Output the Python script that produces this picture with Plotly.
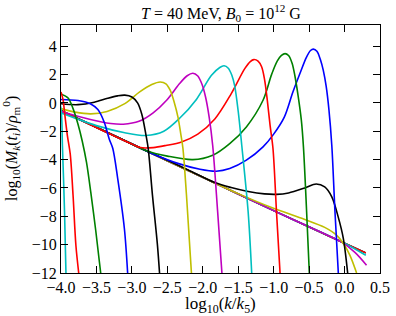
import plotly.graph_objects as go

# ---- data (x = log10(k/k5), y = log10(M_k/rho_m^0)) ----
# set C (early times, close to the initial power law)
cb_x = [-4.0, -3.0, -2.0, -1.0, 0.0, 0.3]
cb_y = [-0.55, -2.9, -5.25, -7.6, -9.9, -10.58]
cg_x = [-4.0, -3.0, -2.0, -1.0, 0.0, 0.3]
cg_y = [-0.55, -2.9, -5.25, -7.6, -9.9, -10.58]
cr_x = [-4.0, -3.0, -2.0, -1.0, 0.0, 0.3]
cr_y = [-0.55, -2.9, -5.25, -7.6, -9.9, -10.58]
cc_x = [-4.0, -3.0, -2.0, -1.0, -0.3, 0.0, 0.3]
cc_y = [-0.55, -2.9, -5.25, -7.6, -9.2, -9.9, -10.75]
cm_x = [-4.0, -3.0, -2.0, -1.0, -0.3, -0.04, 0.15, 0.31]
cm_y = [-0.55, -2.9, -5.25, -7.6, -9.2, -9.82, -10.56, -11.45]
cy_x = [-4.0, -3.0, -2.0, -1.5, -1.03, -0.56, -0.28, -0.11, -0.017, 0.076, 0.17]
cy_y = [-0.55, -2.9, -5.25, -6.4, -7.38, -8.22, -8.78, -9.34, -9.92, -10.75, -12.0]
ck_x = [-4.0, -3.0, -2.54, -2.2, -1.83, -1.6, -1.36, -1.13, -0.96, -0.79, -0.56,
        -0.4, -0.28, -0.18, -0.09, -0.017, 0.044]
ck_y = [-0.55, -2.9, -3.95, -4.75, -5.62, -5.97, -6.25, -6.42, -6.45, -6.35, -6.0,
        -5.72, -5.93, -6.63, -8.04, -9.57, -12.0]

# set A (growing / moving peak)
ab_x = [-4.0, -3.0, -2.7, -2.33, -2.04, -1.81, -1.62, -1.385, -1.15, -1.0, -0.85,
        -0.73, -0.62, -0.54, -0.48, -0.44, -0.39, -0.34, -0.3, -0.26, -0.22,
        -0.18, -0.135, -0.088]
ab_y = [-0.55, -2.9, -3.6, -4.3, -4.68, -4.82, -4.63, -4.04, -3.1, -2.2, -1.0,
        0.75, 2.2, 3.2, 3.7, 3.8, 3.65, 3.05, 2.3, 1.2, -0.5,
        -3.0, -7.7, -12.0]
ag_x = [-4.0, -3.0, -2.8, -2.5, -2.14, -1.86, -1.62, -1.385, -1.15, -1.03, -0.95,
        -0.89, -0.84, -0.79, -0.74, -0.7, -0.655, -0.61, -0.58, -0.535, -0.497]
ag_y = [-0.55, -2.9, -3.37, -3.75, -4.0, -3.69, -2.87, -1.69, 0.19, 2.0, 2.95,
        3.35, 3.48, 3.35, 2.8, 1.9, 0.5, -1.2, -3.1, -7.69, -12.0]
ar_x = [-4.0, -3.0, -2.88, -2.7, -2.52, -2.3, -2.07, -1.83, -1.6, -1.41, -1.33,
        -1.28, -1.22, -1.17, -1.13, -1.09, -1.05, -1.01, -0.96, -0.91]
ar_y = [-0.55, -2.9, -3.15, -3.15, -3.0, -2.75, -2.2, -1.13, 0.64, 2.4, 2.92,
        3.06, 2.95, 2.55, 1.7, 0.2, -1.6, -3.2, -7.69, -12.0]
ac_x = [-4.0, -3.5, -3.1, -2.8, -2.55, -2.33, -2.09, -1.88, -1.76, -1.7, -1.64,
        -1.59, -1.55, -1.5, -1.45, -1.36, -1.31]
ac_y = [-0.7, -1.6, -2.1, -2.3, -2.0, -1.1, 0.25, 1.93, 2.5, 2.62, 2.45,
        1.95, 1.2, -0.6, -3.0, -7.69, -12.0]
am_x = [-4.0, -3.6, -3.3, -3.12, -2.9, -2.7, -2.51, -2.33, -2.22, -2.14, -2.07,
        -2.01, -1.96, -1.91, -1.86, -1.79, -1.73]
am_y = [-0.6, -1.15, -1.45, -1.5, -1.3, -0.7, 0.19, 1.35, 1.92, 2.1, 1.9,
        1.3, 0.4, -1.0, -3.0, -7.69, -12.0]
ay_x = [-4.0, -3.8, -3.58, -3.35, -3.1, -2.89, -2.72, -2.6, -2.52, -2.46, -2.4,
        -2.35, -2.31, -2.28, -2.23, -2.16]
ay_y = [-0.4, -0.65, -0.77, -0.6, -0.05, 0.78, 1.3, 1.48, 1.35, 0.9, 0.0,
        -1.0, -2.2, -3.2, -6.5, -12.0]
ak_x = [-4.0, -3.76, -3.53, -3.34, -3.2, -3.1, -3.0, -2.92, -2.86, -2.8, -2.77,
        -2.71, -2.64, -2.61]
ak_y = [-0.06, -0.12, 0.05, 0.33, 0.5, 0.55, 0.42, 0.0, -0.8, -2.3, -3.2,
        -6.5, -10.0, -12.0]

# set B (late times, peak leaving the window)
bb_x = [-4.0, -3.76, -3.58, -3.48, -3.39, -3.32, -3.27, -3.2, -3.106, -3.06]
bb_y = [0.24, 0.17, -0.07, -0.47, -1.36, -2.54, -3.2, -5.34, -8.86, -12.0]
bg_x = [-4.0, -3.9, -3.83, -3.76, -3.7, -3.64, -3.58, -3.51, -3.44]
bg_y = [0.64, 0.35, -0.4, -1.5, -2.7, -4.2, -6.3, -9.0, -12.0]
br_x = [-4.0, -3.97, -3.95, -3.91, -3.87, -3.83, -3.79, -3.75]
br_y = [0.78, 0.2, -0.66, -2.3, -3.6, -6.51, -10.04, -12.0]
bc_x = [-4.05, -4.0, -3.98, -3.95, -3.93]
bc_y = [0.5, -0.4, -3.0, -7.69, -12.0]

curves = [
    (cb_x, cb_y, "b"), (cg_x, cg_y, "g"), (cr_x, cr_y, "r"), (cc_x, cc_y, "c"),
    (cm_x, cm_y, "m"), (cy_x, cy_y, "y"), (ck_x, ck_y, "k"),
    (ab_x, ab_y, "b"), (ag_x, ag_y, "g"), (ar_x, ar_y, "r"), (ac_x, ac_y, "c"),
    (am_x, am_y, "m"), (ay_x, ay_y, "y"), (ak_x, ak_y, "k"),
    (bb_x, bb_y, "b"), (bg_x, bg_y, "g"), (br_x, br_y, "r"), (bc_x, bc_y, "c"),
]
colors = {"b": "#0000ff", "g": "#008000", "r": "#ff0000", "c": "#00bfbf",
          "m": "#bf00bf", "y": "#bfbf00", "k": "#000000"}

fig = go.Figure()
for xs, ys, c in curves:
    fig.add_trace(go.Scatter(x=xs, y=ys, mode="lines",
                             line=dict(color=colors[c], width=1.6, shape="spline", smoothing=0.9),
                             hoverinfo="skip"))

font_fam = "Liberation Serif"
axis_common = dict(showgrid=False, zeroline=False, showline=True, linecolor="black",
                   linewidth=1, mirror="ticks", ticks="inside", ticklen=7, tickwidth=1,
                   tickcolor="black", automargin=False,
                   tickfont=dict(family=font_fam, size=16, color="black"))
fig.update_xaxes(range=[-4.0, 0.5], tick0=-4.0, dtick=0.5, tickformat=".1f", **axis_common)
fig.update_yaxes(range=[-12, 5.5], tick0=-12, dtick=2, **axis_common)

fig.update_layout(
    width=396, height=316,
    margin=dict(l=61, r=16, t=25, b=43, autoexpand=False),
    plot_bgcolor="white", paper_bgcolor="white",
    showlegend=False,
    font=dict(family=font_fam, size=16, color="black"),
    annotations=[
        dict(text="<i>T</i> = 40 MeV, <i>B</i><sub>0</sub> = 10<sup>12</sup> G",
             xref="paper", yref="paper", x=0.5, y=1, yanchor="bottom", yshift=-1,
             showarrow=False, font=dict(family=font_fam, size=16)),
        dict(text="log<sub>10</sub>(<i>k</i>/<i>k</i><sub>5</sub>)",
             xref="paper", yref="paper", x=0.5, y=0, yanchor="top", yshift=-19,
             showarrow=False, font=dict(family=font_fam, size=17)),
        dict(text="log<sub>10</sub>(<i>M<sub>k</sub></i>(<i>t<sub>i</sub></i>)/<i>ρ</i><sub>m</sub><sup>0</sup>)",
             xref="paper", yref="paper", x=0, y=0.5, xanchor="right", xshift=-37,
             textangle=-90, showarrow=False, font=dict(family=font_fam, size=16)),
    ],
)

fig.write_html("out.html", config={"displayModeBar": False},
               post_script="document.body.style.margin='0px';")
